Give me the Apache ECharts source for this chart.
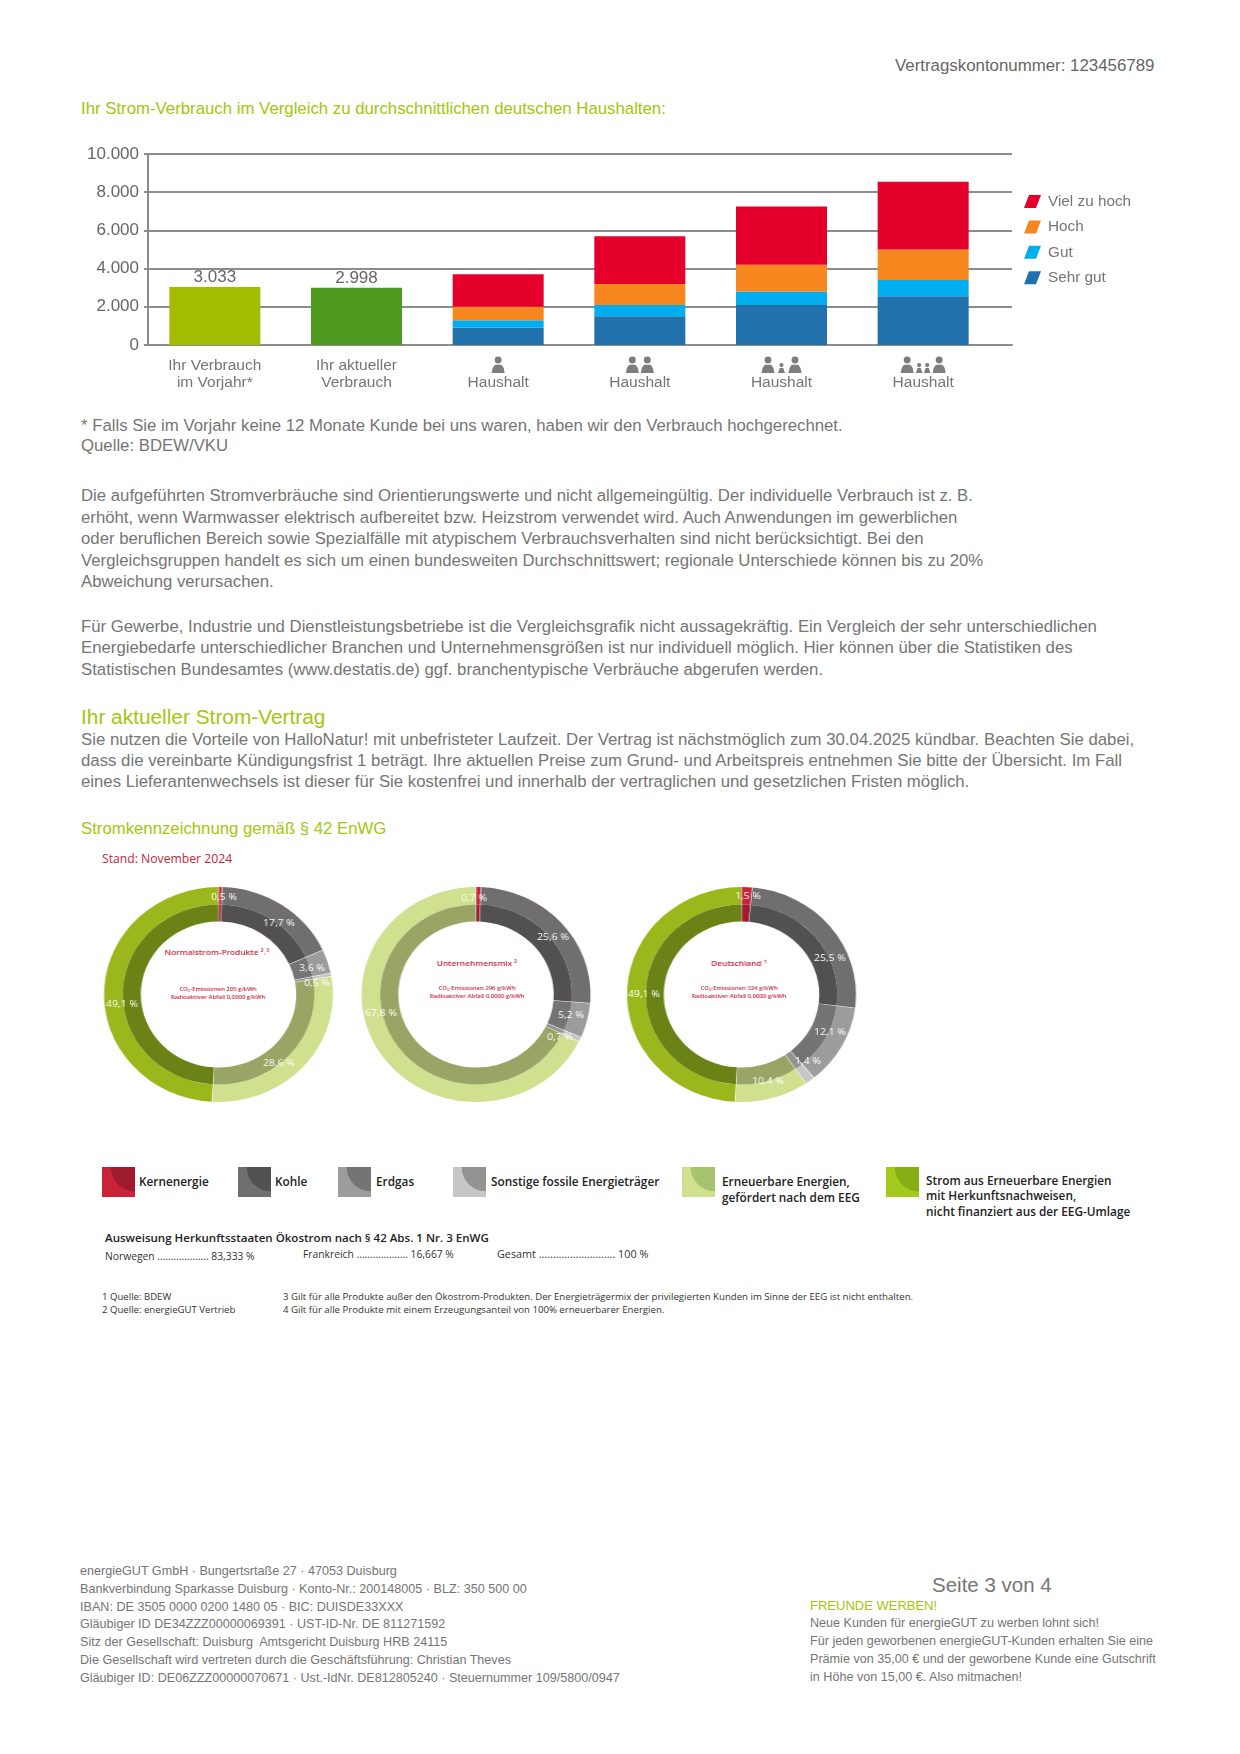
<!DOCTYPE html>
<html lang="de">
<head>
<meta charset="utf-8">
<title>Strom-Verbrauch</title>
<script src="https://cdn.jsdelivr.net/npm/echarts@6/dist/echarts.min.js"></script>
<style>
  html, body { margin: 0; padding: 0; background: #fff; }
  #page { position: relative; width: 1240px; height: 1754px; overflow: hidden; font-family: "Liberation Sans", Arial, sans-serif; color: #6f6f6f; }
  #bars { position: absolute; left: 0; top: 131px; width: 1240px; height: 280px; }
  #donuts { position: absolute; left: 0; top: 870px; width: 1164px; height: 250px; transform-origin: 0 0; transform: scaleX(1.065); }
  .line { position: absolute; white-space: pre; line-height: 1; transform: translateY(-50%); }
  .swatch { position: absolute; width: 33px; height: 30px; top: 1167px; }
  .cond { font-family: "Open Sans", sans-serif; color: #222; }
</style>
</head>
<body>
<div id="page">
  <div id="bars"></div>
  <div id="donuts"></div>
</div>
<script>
const GREEN = '#a3c60f'
const GREY = '#757575'
const RED = '#c0273d'

// Stromverbrauch
const CATEGORIES = ['Ihr Verbrauch\nim Vorjahr*', 'Ihr aktueller\nVerbrauch', ' \nHaushalt', ' \nHaushalt', ' \nHaushalt', ' \nHaushalt']
const OWN_USAGE = [3033, 2998, null, null, null, null]
const OWN_COLORS = ['#a5bd00', '#4e9a1e']
const SEHR_GUT = [null, null, 900, 1500, 2100, 2550]
const GUT = [null, null, 400, 600, 700, 850]
const HOCH = [null, null, 700, 1100, 1400, 1600]
const VIEL_ZU_HOCH = [null, null, 1700, 2500, 3050, 3550]
// big / small persons per column
const HOUSEHOLD_ICONS = [null, null, 'B', 'BB', 'BsB', 'BssB']

// Stromkennzeichnung: Kern, Kohle, Erdgas, sonstige fossile, EEG, Herkunftsnachweise
const NORMALSTROM = [0.5, 17.7, 3.6, 0.5, 28.6, 49.1]
const UNTERNEHMENSMIX = [0.7, 25.6, 5.2, 0.7, 67.8, 0]
const DEUTSCHLAND = [1.5, 25.5, 12.1, 1.4, 10.4, 49.1]
const OUTER_COLORS = ['#c9233a', '#716e6f', '#9c9c9c', '#c8c6c4', '#cfe08f', '#9ab81c']
const INNER_COLORS = ['#a01a2d', '#535051', '#747474', '#959391', '#9aa565', '#6b8316']
const SWATCH_LIGHT = ['#c9233a', '#716e6f', '#9c9c9c', '#c8c6c4', '#cfe08f', '#a3c91e']
const SWATCH_DARK = ['#a01a2d', '#535051', '#747474', '#959391', '#a6c46d', '#88ad14']

const ENERGY_LEGEND = [
  ['Kernenergie', 102, 139, [1182]],
  ['Kohle', 238, 275, [1182]],
  ['Erdgas', 338, 376, [1182]],
  ['Sonstige fossile Energieträger', 453, 491, [1182]],
  ['Erneuerbare Energien,\ngefördert nach dem EEG', 682, 722, [1182, 1198]],
  ['Strom aus Erneuerbare Energien\nmit Herkunftsnachweisen,\nnicht finanziert aus der EEG-Umlage', 886, 926, [1181, 1196, 1212]],
]

// text, x, y (line centre), size, colour
const PAGE_LINES = [
  ['Vertragskontonummer: 123456789', 895, 66, 16.85, '#666'],
  ['Ihr Strom-Verbrauch im Vergleich zu durchschnittlichen deutschen Haushalten:', 81, 109, 16.8, GREEN],
  ['* Falls Sie im Vorjahr keine 12 Monate Kunde bei uns waren, haben wir den Verbrauch hochgerechnet.', 81, 426, 16.75, GREY],
  ['Quelle: BDEW/VKU', 81, 446, 16.75, GREY],
  ['Die aufgeführten Stromverbräuche sind Orientierungswerte und nicht allgemeingültig. Der individuelle Verbrauch ist z. B.', 81, 496, 16.75, GREY],
  ['erhöht, wenn Warmwasser elektrisch aufbereitet bzw. Heizstrom verwendet wird. Auch Anwendungen im gewerblichen', 81, 518, 16.75, GREY],
  ['oder beruflichen Bereich sowie Spezialfälle mit atypischem Verbrauchsverhalten sind nicht berücksichtigt. Bei den', 81, 539, 16.75, GREY],
  ['Vergleichsgruppen handelt es sich um einen bundesweiten Durchschnittswert; regionale Unterschiede können bis zu 20%', 81, 561, 16.75, GREY],
  ['Abweichung verursachen.', 81, 582, 16.75, GREY],
  ['Für Gewerbe, Industrie und Dienstleistungsbetriebe ist die Vergleichsgrafik nicht aussagekräftig. Ein Vergleich der sehr unterschiedlichen', 81, 627, 16.75, GREY],
  ['Energiebedarfe unterschiedlicher Branchen und Unternehmensgrößen ist nur individuell möglich. Hier können über die Statistiken des', 81, 648, 16.75, GREY],
  ['Statistischen Bundesamtes (www.destatis.de) ggf. branchentypische Verbräuche abgerufen werden.', 81, 670, 16.75, GREY],
  ['Ihr aktueller Strom-Vertrag', 81, 717, 20.85, GREEN],
  ['Sie nutzen die Vorteile von HalloNatur! mit unbefristeter Laufzeit. Der Vertrag ist nächstmöglich zum 30.04.2025 kündbar. Beachten Sie dabei,', 81, 740, 16.8, GREY],
  ['dass die vereinbarte Kündigungsfrist 1 beträgt. Ihre aktuellen Preise zum Grund- und Arbeitspreis entnehmen Sie bitte der Übersicht. Im Fall', 81, 761, 16.8, GREY],
  ['eines Lieferantenwechsels ist dieser für Sie kostenfrei und innerhalb der vertraglichen und gesetzlichen Fristen möglich.', 81, 782, 16.75, GREY],
  ['Stromkennzeichnung gemäß § 42 EnWG', 81, 829, 16.75, GREEN],
  ['energieGUT GmbH · Bungertsrtaße 27 · 47053 Duisburg', 80, 1571, 12.6, GREY],
  ['Bankverbindung Sparkasse Duisburg · Konto-Nr.: 200148005 · BLZ: 350 500 00', 80, 1589, 12.6, GREY],
  ['IBAN: DE 3505 0000 0200 1480 05 · BIC: DUISDE33XXX', 80, 1607, 12.6, GREY],
  ['Gläubiger ID DE34ZZZ00000069391 · UST-ID-Nr. DE 811271592', 80, 1624, 12.6, GREY],
  ['Sitz der Gesellschaft: Duisburg  Amtsgericht Duisburg HRB 24115', 80, 1642, 12.6, GREY],
  ['Die Gesellschaft wird vertreten durch die Geschäftsführung: Christian Theves', 80, 1660, 12.6, GREY],
  ['Gläubiger ID: DE06ZZZ00000070671 · Ust.-IdNr. DE812805240 · Steuernummer 109/5800/0947', 80, 1678, 12.6, GREY],
  ['Seite 3 von 4', 932, 1585, 20.5, GREY],
  ['FREUNDE WERBEN!', 810, 1605, 13, GREEN],
  ['Neue Kunden für energieGUT zu werben lohnt sich!', 810, 1623, 12.6, GREY],
  ['Für jeden geworbenen energieGUT-Kunden erhalten Sie eine', 810, 1641, 12.6, GREY],
  ['Prämie von 35,00 € und der geworbene Kunde eine Gutschrift', 810, 1659, 12.6, GREY],
  ['in Höhe von 15,00 €. Also mitmachen!', 810, 1677, 12.6, GREY],
]

// condensed block under the donuts: text, x, y, size, weight, colour
const NOTE_LINES = [
  ['Stand: November 2024', 102, 859, 12.2, 400, RED],
  ['Ausweisung Herkunftsstaaten Ökostrom nach § 42 Abs. 1 Nr. 3 EnWG', 105, 1238, 11.55, 600, '#222'],
  ['Norwegen ................... 83,333 %', 105, 1256, 10.3, 400, '#333'],
  ['Frankreich ................... 16,667 %', 303, 1254, 10.3, 400, '#333'],
  ['Gesamt ........................... 100 %', 497, 1254, 10.8, 400, '#333'],
  ['1 Quelle: BDEW', 102, 1297, 9.6, 400, '#333'],
  ['2 Quelle: energieGUT Vertrieb', 102, 1310, 9.6, 400, '#333'],
  ['3 Gilt für alle Produkte außer den Ökostrom-Produkten. Der Energieträgermix der privilegierten Kunden im Sinne der EEG ist nicht enthalten.', 283, 1297, 9.65, 400, '#333'],
  ['4 Gilt für alle Produkte mit einem Erzeugungsanteil von 100% erneuerbarer Energien.', 283, 1310, 9.65, 400, '#333'],
]

const page = document.getElementById('page')

function addLine(text, x, y, size, color, weight, cls) {
  const el = document.createElement('div')
  el.className = 'line' + (cls ? ' ' + cls : '')
  el.textContent = text
  el.style.left = x + 'px'
  el.style.top = y + 'px'
  el.style.fontSize = size + 'px'
  el.style.color = color
  if (weight) el.style.fontWeight = weight
  page.appendChild(el)
}

PAGE_LINES.forEach(l => addLine(l[0], l[1], l[2], l[3], l[4]))
NOTE_LINES.forEach(l => addLine(l[0], l[1], l[2], l[3], l[5], l[4], 'cond'))

ENERGY_LEGEND.forEach((item, i) => {
  const sw = document.createElement('div')
  sw.className = 'swatch'
  sw.style.left = item[1] + 'px'
  sw.style.background = `radial-gradient(circle at 100% 0, ${SWATCH_DARK[i]} 24px, ${SWATCH_LIGHT[i]} 24.6px)`
  page.appendChild(sw)
  item[0].split('\n').forEach((t, n) => addLine(t, item[2], item[3][n], 11.8, '#222', 600, 'cond'))
})

// ---- bar chart ----
const deNumber = v => String(v).replace(/\B(?=(\d{3})+$)/g, '.')
const LINE_COLOR = '#8c8c8c'

function stacked(name, data, color) {
  return { name, type: 'bar', stack: 'total', xAxisIndex: 1, yAxisIndex: 1, barWidth: 91, data, itemStyle: { color } }
}

const barChart = echarts.init(document.getElementById('bars'))
barChart.setOption({
  animation: false,
  textStyle: { fontFamily: '"Liberation Sans", Arial, sans-serif' },
  grid: [
    { left: 148, top: 23, width: 864, height: 191 },
    { left: 144, top: 23, width: 850, height: 191 },
  ],
  xAxis: [
    {
      gridIndex: 0, type: 'value', min: 0, max: 1,
      axisLabel: { show: false }, axisTick: { show: false }, splitLine: { show: false },
      axisLine: { lineStyle: { color: LINE_COLOR, width: 2 } },
    },
    {
      gridIndex: 1, type: 'category', data: CATEGORIES,
      axisLine: { show: false }, axisTick: { show: false },
      axisLabel: { color: GREY, fontSize: 15.5, lineHeight: 17, margin: 12, interval: 0 },
    },
  ],
  yAxis: [
    {
      gridIndex: 0, type: 'value', min: 0, max: 10000, interval: 2000,
      axisLine: { show: true, lineStyle: { color: LINE_COLOR, width: 2 } },
      axisTick: { show: true, length: 4, lineStyle: { color: LINE_COLOR, width: 2 } },
      axisLabel: { color: '#666', fontSize: 17, margin: 9, formatter: deNumber },
      splitLine: { lineStyle: { color: LINE_COLOR, width: 2 } },
    },
    { gridIndex: 1, type: 'value', min: 0, max: 10000, show: false },
  ],
  legend: {
    orient: 'vertical', left: 1019, top: 58, itemWidth: 17, itemHeight: 13, itemGap: 10.4,
    icon: 'path://M5,0 L17,0 L12,13 L0,13 Z',
    data: ['Viel zu hoch', 'Hoch', 'Gut', 'Sehr gut'],
    textStyle: { color: GREY, fontSize: 15.3, padding: [0, 0, 0, 2] },
  },
  series: [
    {
      name: 'Ihr Verbrauch', type: 'bar', stack: 'total', xAxisIndex: 1, yAxisIndex: 1, barWidth: 91,
      data: OWN_USAGE.map((v, i) => (v === null ? null : { value: v, itemStyle: { color: OWN_COLORS[i] } })),
      label: { show: true, position: 'top', distance: 1, color: '#666', fontSize: 17, formatter: p => deNumber(p.value) },
    },
    stacked('Sehr gut', SEHR_GUT, '#2171ad'),
    stacked('Gut', GUT, '#00aeef'),
    stacked('Hoch', HOCH, '#f7861e'),
    stacked('Viel zu hoch', VIEL_ZU_HOCH, '#e4002b'),
  ],
})

function personIcons(code, cx) {
  const top = 225.5, bottom = 242
  const bigOffset = { 1: 0, 2: 7.5, 3: 13.5, 4: 16 }[code.length]
  const out = []
  const person = (x, h, w) => {
    const r = h * 0.21
    out.push({ type: 'circle', shape: { cx: x, cy: bottom - h + r, r }, style: { fill: '#7d7d7d' } })
    out.push({
      type: 'polygon',
      shape: { points: [
        [x - w / 2, bottom], [x - w / 2 + 1, bottom - h * 0.3], [x - w / 4, bottom - h * 0.5],
        [x + w / 4, bottom - h * 0.5], [x + w / 2 - 1, bottom - h * 0.3], [x + w / 2, bottom],
      ] },
      style: { fill: '#7d7d7d' },
    })
  }
  const bigs = [...code].filter(c => c === 'B').length
  if (bigs === 1) person(cx, bottom - top, 13)
  else { person(cx - bigOffset, bottom - top, 13); person(cx + bigOffset, bottom - top, 13) }
  const smalls = code.length - bigs
  if (smalls === 1) person(cx, 10, 7)
  if (smalls === 2) { person(cx - 4, 10, 6.5); person(cx + 4, 10, 6.5) }
  return out
}

barChart.setOption({
  graphic: HOUSEHOLD_ICONS.flatMap((code, i) =>
    code ? personIcons(code, barChart.convertToPixel({ xAxisIndex: 1 }, i)) : []
  ),
})

// ---- donuts ----
const STRETCH = 1.065
const DONUT_TOP = 870
const DONUTS = [
  { values: NORMALSTROM, cx: 218.5, title: 'Normalstrom-Produkte ²˒³', titleX: 217, titleY: 953, co2: 'CO₂-Emissionen 205 g/kWh', lineX: 218, lineY: 989 },
  { values: UNTERNEHMENSMIX, cx: 476, title: 'Unternehmensmix ²', titleX: 477, titleY: 964, co2: 'CO₂-Emissionen 296 g/kWh', lineX: 477, lineY: 988.5 },
  { values: DEUTSCHLAND, cx: 741.5, title: 'Deutschland ¹', titleX: 739, titleY: 964, co2: 'CO₂-Emissionen 324 g/kWh', lineX: 739, lineY: 988.5 },
]
// label spots on the page, hand placed as in the source
const LABEL_SPOTS = [
  [[224, 897], [279, 923], [312, 968], [317, 983], [279, 1063], [122, 1004]],
  [[474, 898], [553, 937], [571, 1015], [560, 1037], [381, 1013]],
  [[748, 896], [830, 958], [830, 1032], [808, 1061], [768, 1081], [644, 994]],
]
const CENTER_Y = 994.5

const fmtPercent = v => v.toFixed(1).replace('.', ',') + ' %'

const donutSeries = DONUTS.flatMap((d, k) => {
  const shown = d.values
    .map((value, i) => ({ value, i }))
    .filter(p => p.value > 0)
  const ring = (radius, colors, withLabel) => ({
    type: 'pie',
    center: [d.cx / STRETCH, CENTER_Y - DONUT_TOP],
    radius,
    startAngle: 90,
    padAngle: 0.35,
    silent: true,
    data: shown.map(p => ({ value: p.value, itemStyle: { color: colors[p.i] } })),
    labelLine: { show: false },
    label: withLabel
      ? { show: true, position: 'inside', color: '#fff', fontSize: 9.8, fontFamily: '"Open Sans", sans-serif', formatter: p => fmtPercent(p.value) }
      : { show: false },
    labelLayout: withLabel
      ? p => ({ x: LABEL_SPOTS[k][p.dataIndex][0] / STRETCH, y: LABEL_SPOTS[k][p.dataIndex][1] - DONUT_TOP, align: 'center', verticalAlign: 'middle' })
      : undefined,
  })
  return [ring([90, 107.5], OUTER_COLORS, true), ring([73, 90], INNER_COLORS, false)]
})

function centerText(text, x, y, size) {
  return {
    type: 'text', x: x / STRETCH, y: y - DONUT_TOP, z: 10,
    style: { text, fill: RED, fontSize: size, fontWeight: 600, fontFamily: '"Open Sans", sans-serif', align: 'center', verticalAlign: 'middle' },
  }
}

const donutChart = echarts.init(document.getElementById('donuts'))
donutChart.setOption({
  animation: false,
  series: donutSeries,
  graphic: DONUTS.flatMap(d => [
    centerText(d.title, d.titleX, d.titleY, 7.8),
    centerText(d.co2, d.lineX, d.lineY, 5.6),
    centerText('Radioaktiver Abfall 0,0000 g/kWh', d.lineX, d.lineY + 8, 5.6),
  ]),
})
</script>
</body>
</html>
